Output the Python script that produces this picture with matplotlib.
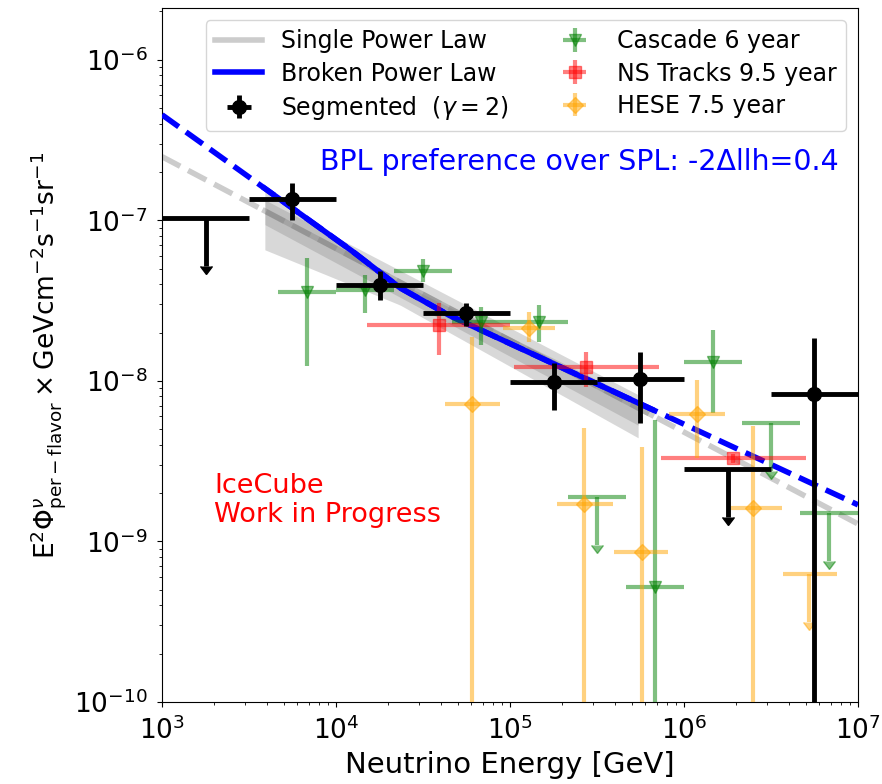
import numpy as np
import matplotlib
matplotlib.use("Agg")
import matplotlib.pyplot as plt

plt.rcParams["lines.markersize"] = 8  # size of the upper-limit arrow heads

# --------- data ---------
# Segmented (gamma = 2), half-decade bins
seg_E = [1.78e3, 5.62e3, 1.78e4, 5.62e4, 1.78e5, 5.62e5, 1.78e6, 5.62e6]
seg_Elo = [1e3, 3.16e3, 1e4, 3.16e4, 1e5, 3.16e5, 1e6, 3.16e6]
seg_Ehi = [3.16e3, 1e4, 3.16e4, 1e5, 3.16e5, 1e6, 3.16e6, 1e7]
seg_flux = [1.03e-7, 1.36e-7, 3.98e-8, 2.65e-8, 9.86e-9, 1.03e-8, 2.83e-9, 8.3e-9]
seg_lo = [5.2e-8, 1.0e-7, 3.2e-8, 2.2e-8, 6.6e-9, 5.5e-9, 1.42e-9, 1e-12]
seg_hi = [1.03e-7, 1.71e-7, 4.8e-8, 3.06e-8, 1.29e-8, 1.52e-8, 2.83e-9, 1.85e-8]
seg_ul = [True, False, False, False, False, False, True, False]

# Cascade 6 year
cas_E = [6.8e3, 1.47e4, 3.16e4, 6.8e4, 1.47e5, 3.16e5, 6.8e5, 1.47e6, 3.16e6, 6.8e6]
cas_Elo = [4.64e3, 1e4, 2.15e4, 4.64e4, 1e5, 2.15e5, 4.64e5, 1e6, 2.15e6, 4.64e6]
cas_Ehi = [1e4, 2.15e4, 4.64e4, 1e5, 2.15e5, 4.64e5, 1e6, 2.15e6, 4.64e6, 1e7]
cas_flux = [3.59e-8, 3.69e-8, 4.84e-8, 2.33e-8, 2.33e-8, 1.89e-9, 5.2e-10, 1.31e-8, 5.47e-9, 1.5e-9]
cas_lo = [1.24e-8, 2.65e-8, 4.1e-8, 1.67e-8, 1.75e-8, 0.95e-9, 1e-12, 6.3e-9, 2.74e-9, 0.75e-9]
cas_hi = [5.8e-8, 4.57e-8, 5.7e-8, 2.9e-8, 2.97e-8, 1.89e-9, 5.7e-9, 2.08e-8, 5.47e-9, 1.5e-9]
cas_ul = [False, False, False, False, False, True, False, False, True, True]

# NS Tracks 9.5 year
nst_E = [3.9e4, 2.75e5, 1.9e6]
nst_Elo = [1.5e4, 1.05e5, 7.4e5]
nst_Ehi = [1e5, 7.2e5, 5.0e6]
nst_flux = [2.23e-8, 1.22e-8, 3.3e-9]
nst_lo = [1.45e-8, 9.2e-9, 3.1e-9]
nst_hi = [3.06e-8, 1.52e-8, 3.5e-9]

# HESE 7.5 year
hese_E = [6.05e4, 1.28e5, 2.66e5, 5.7e5, 1.19e6, 2.5e6, 5.2e6]
hese_Elo = [4.23e4, 9.1e4, 1.86e5, 3.96e5, 8.2e5, 1.84e6, 3.7e6]
hese_Ehi = [8.8e4, 1.82e5, 3.9e5, 8.1e5, 1.72e6, 3.66e6, 7.6e6]
hese_flux = [7.2e-9, 2.14e-8, 1.71e-9, 8.6e-10, 6.2e-9, 1.62e-9, 6.3e-10]
hese_lo = [1e-12, 1.75e-8, 1e-12, 1e-12, 3.3e-9, 1e-12, 3.15e-10]
hese_hi = [1.88e-8, 2.69e-8, 5.1e-9, 3.9e-9, 1.01e-8, 5.2e-9, 6.3e-10]
hese_ul = [False, False, False, False, False, False, True]

# fitted models
spl_E = [1e3, 1e7]
spl_flux = [2.49e-7, 1.285e-9]
spl_band_E = [3.9e3, 5.45e5]
spl_band_lo = [9.4e-8, 5.3e-9]
spl_band_hi = [1.34e-7, 8.2e-9]

bpl_E = [1e3, 1.2e4, 2.33e4, 4.5e4, 1e7]
bpl_flux = [4.54e-7, 6.6e-8, 3.8e-8, 2.55e-8, 1.69e-9]
bpl_band_E = [3.9e3, 2.33e4, 5.45e5]
bpl_band_lo = [6.55e-8, 2.97e-8, 4.42e-9]
bpl_band_hi = [1.51e-7, 4.08e-8, 7.6e-9]
fit_range = (3.9e3, 6.5e5)


def logline(E_pts, f_pts, E):
    return 10 ** np.interp(np.log10(E), np.log10(E_pts), np.log10(f_pts))


def draw(ax, E, Elo, Ehi, flux, lo, hi, ul, color, marker, ms, lw, alpha, label, z):
    E = np.array(E); flux = np.array(flux)
    ul = np.array(ul, dtype=bool)
    xerr = np.array([E - np.array(Elo), np.array(Ehi) - E])
    yerr = np.array([flux - np.array(lo), np.array(hi) - flux])
    m = ~ul
    h = ax.errorbar(E[m], flux[m], xerr=xerr[:, m], yerr=yerr[:, m], fmt=marker,
                    color=color, ms=ms, elinewidth=lw, alpha=alpha, label=label, zorder=z)
    if ul.any():
        ax.errorbar(E[ul], flux[ul], xerr=xerr[:, ul], yerr=(flux - np.array(lo))[ul],
                    fmt="none", uplims=True, color=color, elinewidth=lw, alpha=alpha,
                    capsize=0, zorder=z)
    return h


fig = plt.figure(figsize=(8.82, 7.84), dpi=100)
ax = fig.add_axes([0.1837, 0.1046, 0.7891, 0.8852])
ax.set_xscale("log")
ax.set_yscale("log")

Ef = np.logspace(3, 7, 300)
Es = np.logspace(np.log10(fit_range[0]), np.log10(fit_range[1]), 200)

# uncertainty bands
Eb = np.logspace(np.log10(bpl_band_E[0]), np.log10(bpl_band_E[-1]), 100)
ax.fill_between(Eb, logline(bpl_band_E, bpl_band_lo, Eb), logline(bpl_band_E, bpl_band_hi, Eb),
                color="gray", alpha=0.3, lw=0, zorder=1)
Ebs = np.logspace(np.log10(spl_band_E[0]), np.log10(spl_band_E[-1]), 100)
ax.fill_between(Ebs, logline(spl_band_E, spl_band_lo, Ebs), logline(spl_band_E, spl_band_hi, Ebs),
                color="gray", alpha=0.3, lw=0, zorder=1)

# models
ax.plot(Ef, logline(spl_E, spl_flux, Ef), "--", color="gray", alpha=0.4, lw=4, zorder=2)
ax.plot(Es, logline(spl_E, spl_flux, Es), "-", color="gray", alpha=0.4, lw=4, zorder=2,
        label="Single Power Law")
ax.plot(Ef, logline(bpl_E, bpl_flux, Ef), "--", color="blue", lw=4, zorder=3)
ax.plot(Es, logline(bpl_E, bpl_flux, Es), "-", color="blue", lw=4, zorder=3,
        label="Broken Power Law")

draw(ax, seg_E, seg_Elo, seg_Ehi, seg_flux, seg_lo, seg_hi, seg_ul,
     "black", "o", 10, 3.5, 1.0, r"Segmented  $(\gamma=2)$", 5)
draw(ax, cas_E, cas_Elo, cas_Ehi, cas_flux, cas_lo, cas_hi, cas_ul,
     "green", "v", 9, 3, 0.5, "Cascade 6 year", 4)
draw(ax, nst_E, nst_Elo, nst_Ehi, nst_flux, nst_lo, nst_hi, [False] * 3,
     "red", "s", 9, 3, 0.5, "NS Tracks 9.5 year", 4)
draw(ax, hese_E, hese_Elo, hese_Ehi, hese_flux, hese_lo, hese_hi, hese_ul,
     "orange", "D", 8, 3, 0.5, "HESE 7.5 year", 4)

ax.set_xlim(1e3, 1e7)
ax.set_ylim(1e-10, 2.1e-6)
ax.tick_params(labelsize=19, pad=7)
ax.set_xlabel("Neutrino Energy [GeV]", fontsize=21, labelpad=4)
ax.set_ylabel(r"E$^2\Phi^{\nu}_{\rm per-flavor}\times$GeVcm$^{-2}$s$^{-1}$sr$^{-1}$",
              fontsize=19, labelpad=4)

ax.text(0.227, 0.767, u"BPL preference over SPL: -2\u0394llh=0.4", color="blue",
        fontsize=20.5, transform=ax.transAxes)
ax.text(0.075, 0.33, "IceCube\nWork in Progress", color="red", fontsize=19.5,
        transform=ax.transAxes, va="top", linespacing=1.15)

ax.legend(ncol=2, loc="upper right", fontsize=17, labelspacing=0.35, columnspacing=1.8)

fig.savefig("out.png", dpi=100)
